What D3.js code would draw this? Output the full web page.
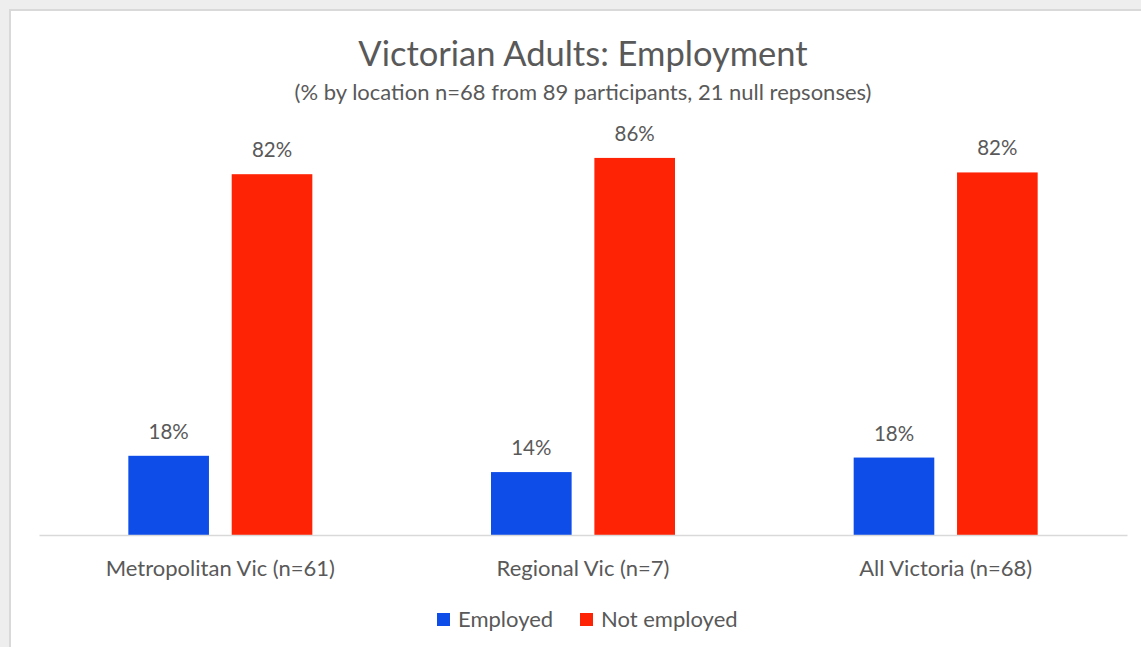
<!DOCTYPE html>
<html lang="en">
<head>
<meta charset="UTF-8">
<title>Victorian Adults: Employment</title>
<script src="https://d3js.org/d3.v7.min.js"></script>
<style>
  html, body { margin: 0; padding: 0; background: #eeeeee; overflow: hidden; }
  svg { display: block; font-family: Lato, "Open Sans", sans-serif; }
</style>
</head>
<body>
<svg width="1141" height="647"></svg>
<script>
const categories = ["Metropolitan Vic (n=61)", "Regional Vic (n=7)", "All Victoria (n=68)"];
const seriesNames = ["Employed", "Not employed"];
const employed = [18.0, 14.3, 17.6];
const notEmployed = [82.0, 85.7, 82.4];
const colors = ["#0f4de8", "#ff2305"];

const svg = d3.select("svg");
const textColor = "#595959";

// chart area (white panel with light border on top/left)
svg.append("rect").attr("x", 10).attr("y", 10).attr("width", 1200).attr("height", 700)
  .attr("fill", "#fff").attr("stroke", "#d9d9d9").attr("stroke-width", 2);

const x0 = d3.scaleBand().domain(categories).range([39, 1127]);
const x1 = d3.scaleBand().domain(seriesNames).range([-92, 92]).paddingInner(0.22);
const y = d3.scaleLinear().domain([0, 100]).range([535, 95]);

const rows = categories.map((c, i) => ({ cat: c, vals: [employed[i], notEmployed[i]] }));

const groups = svg.selectAll("g.grp").data(rows).enter().append("g")
  .attr("class", "grp")
  .attr("transform", d => `translate(${x0(d.cat) + x0.bandwidth() / 2},0)`);

groups.selectAll("rect").data(d => d.vals.map((v, j) => ({ v, s: seriesNames[j], j })))
  .enter().append("rect")
  .attr("x", d => x1(d.s))
  .attr("width", x1.bandwidth())
  .attr("y", d => y(d.v))
  .attr("height", d => y(0) - y(d.v))
  .attr("fill", d => colors[d.j]);

groups.selectAll("text.lbl").data(d => d.vals.map((v, j) => ({ v, s: seriesNames[j] })))
  .enter().append("text")
  .attr("class", "lbl")
  .attr("x", d => x1(d.s) + x1.bandwidth() / 2)
  .attr("y", d => y(d.v) - 17)
  .attr("text-anchor", "middle")
  .attr("font-size", 20.5)
  .attr("fill", textColor)
  .text(d => Math.round(d.v) + "%");

// x axis
const xAxis = svg.append("g").attr("transform", `translate(0,${y(0)})`)
  .call(d3.axisBottom(x0).tickSize(0).tickPadding(25));
xAxis.select(".domain").attr("stroke", "#d9d9d9").attr("stroke-width", 1.5);
xAxis.selectAll("text").attr("font-size", 22).attr("fill", textColor)
  .attr("font-family", "Lato, 'Open Sans', sans-serif");

// titles
svg.append("text").attr("x", 583).attr("y", 66).attr("text-anchor", "middle")
  .attr("font-size", 34.5).attr("fill", textColor).text("Victorian Adults: Employment");
svg.append("text").attr("x", 583).attr("y", 100).attr("text-anchor", "middle")
  .attr("font-size", 22).attr("fill", textColor)
  .text("(% by location n=68 from 89 participants, 21 null repsonses)");

// legend
const legendX = [437, 580];
const leg = svg.selectAll("g.leg").data(seriesNames).enter().append("g")
  .attr("class", "leg")
  .attr("transform", (d, i) => `translate(${legendX[i]},613)`);
leg.append("rect").attr("width", 13).attr("height", 13).attr("fill", (d, i) => colors[i]);
leg.append("text").attr("x", 21).attr("y", 13.5).attr("font-size", 22).attr("fill", textColor).text(d => d);
</script>
</body>
</html>
